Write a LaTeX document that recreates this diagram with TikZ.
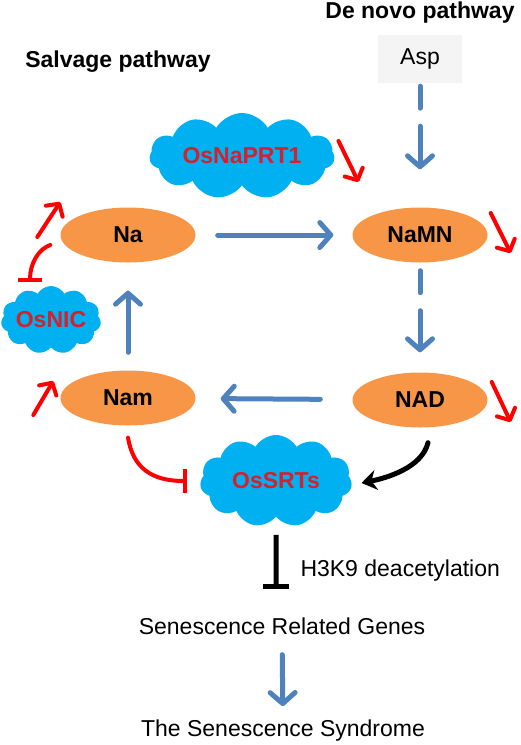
\documentclass[tikz,border=0pt]{standalone}
\usepackage{fontspec}
\setmainfont{Liberation Sans}
\usetikzlibrary{shapes.geometric,shapes.symbols,arrows.meta,positioning}
\definecolor{metaborange}{RGB}{247,150,70}
\definecolor{cloudblue}{RGB}{0,176,240}
\definecolor{flowblue}{RGB}{79,129,189}
\definecolor{enzred}{RGB}{214,32,42}
\definecolor{aspgray}{RGB}{244,244,244}
\tikzset{
	metab/.style={ellipse, fill=metaborange, minimum width=135pt, minimum height=55pt, inner sep=0pt, font=\bfseries},
	enzyme/.style={cloud, cloud ignores aspect, cloud puffs=11, cloud puff arc=120, fill=cloudblue, text=enzred, inner sep=0pt, font=\bfseries},
	flow/.style={flowblue, line width=5pt, -{Straight Barb[round,length=11pt,width=25pt]}},
	flowdash/.style={flow, dash pattern=on 22pt off 18pt on 90pt off 10pt},
	change/.style={red, line width=4pt, -{Straight Barb[round,length=9pt,width=20pt]}},
	inhib/.style={red, line width=4pt, -{Bar[width=24pt]}},
}
\begin{document}
\fontsize{23}{27}\selectfont
\begin{tikzpicture}[x=1pt, y=-1pt, line join=round, line cap=round, >=stealth, inner sep=2pt]
		\useasboundingbox (0,0) rectangle (520,745);
		\node[font=\bfseries] (denovo) at (420,13) {De novo pathway};
		\node[font=\bfseries] (salvage) at (118,62) {Salvage pathway};
		\node[fill=aspgray, minimum width=84pt, minimum height=48pt] (Asp) at (420,59) {Asp};
		\node[enzyme, minimum width=185pt, minimum height=86pt] (NaPRT) at (242,156) {OsNaPRT1};
		\node[metab] (Na) at (128,235) {Na};
		\node[metab] (NaMN) at (420,235) {NaMN};
		\node[enzyme, minimum width=100pt, minimum height=68pt] (NIC) at (51,320) {OsNIC};
		\node[metab] (Nam) at (128,398) {Nam};
		\node[metab] (NAD) at (420,400) {NAD};
		\node[enzyme, minimum width=152pt, minimum height=92pt] (SRT) at (276,481) {OsSRTs};
		\node (genes) at (282,626) {Senescence Related Genes};
		\node (syndrome) at (283,731) {The Senescence Syndrome};
		% blue flow
		\draw[flow, shorten <=22pt, shorten >=19pt] (Na) -- (NaMN);
		\draw[flow, shorten <=32pt, shorten >=25pt] (NAD) -- (Nam);
		\draw[flow, shorten <=18pt, shorten >=28pt] (Nam) -- (Na);
		\draw[flowdash, shorten <=3pt, shorten >=38pt] (Asp) -- (NaMN);
		\draw[flowdash, shorten <=8pt, shorten >=20pt] (NaMN) -- (NAD);
		\draw[flow, shorten <=18pt, shorten >=12pt] (genes) -- (syndrome);
		% up and down
		\draw[change] ([shift={(4,-15)}]NaPRT.east) -- ++(20,41);
		\draw[change] ([shift={(3,-22)}]NaMN.east) -- ++(20,40);
		\draw[change] ([shift={(4,-18)}]NAD.east) -- ++(19,40);
		\draw[change] ([shift={(-23,2)}]Na.west) -- ++(23,-35);
		\draw[change] ([shift={(-27,17)}]Nam.west) -- ++(20,-34);
		% inhibition
		\draw[inhib] ([shift={(-10,10)}]Na.west) .. controls +(-12,4) and +(0,-18) .. ([shift={(-21,-4)}]NIC.north);
		\draw[inhib] ([yshift=-12pt]Nam.south) .. controls +(5,30) and +(-35,0) .. ([xshift=-14pt]SRT.west);
		\draw[line width=5pt, -{Stealth[length=15pt,width=20pt]}] ([shift={(8,15)}]NAD.south) .. controls +(-6,25) and +(25,-5) .. ([shift={(10,2)}]SRT.east);
		\draw[line width=5pt, line cap=butt, -{Bar[width=26pt]}, shorten <=18pt, shorten >=26pt] (SRT) -- (SRT |- genes.north)
		node[midway, right=20pt, yshift=-4pt] (h3k9) {H3K9 deacetylation};
	\end{tikzpicture}
\end{document}
